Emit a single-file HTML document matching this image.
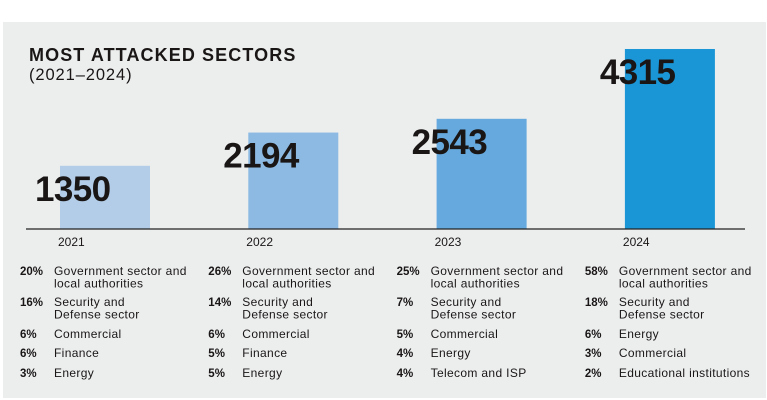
<!DOCTYPE html>
<html><head><meta charset="utf-8"><style>
body{margin:0;width:767px;height:400px;background:#fff;overflow:hidden;font-family:"Liberation Sans",sans-serif}
svg{position:absolute;left:0;top:0}
</style></head><body>
<svg id="c" width="767" height="400">
<rect x="3" y="22" width="763" height="376" fill="#eceeee"/>
<text x="29" y="61" font-size="18" font-weight="bold" fill="#1a1616" letter-spacing="1.1">MOST ATTACKED SECTORS</text>
<text x="29" y="80" font-size="16.5" fill="#1a1616" letter-spacing="0.9">(2021–2024)</text>
<g id="bars"></g>
<line x1="26" x2="745" y1="229" y2="229" stroke="#222" stroke-width="1.2"/>
<g id="tbl"></g>
</svg>
<script>
const years = ["2021","2022","2023","2024"];
const totals = [1350, 2194, 2543, 4315];
const colors = ["#b3cde8","#8dbae3","#65a9de","#1a96d6"];
const pcts = [["20%","16%","6%","6%","3%"],["26%","14%","6%","5%","5%"],["25%","7%","5%","4%","4%"],["58%","18%","6%","3%","2%"]];
const sectors = [
 [["Government sector and","local authorities"],["Security and","Defense sector"],["Commercial"],["Finance"],["Energy"]],
 [["Government sector and","local authorities"],["Security and","Defense sector"],["Commercial"],["Finance"],["Energy"]],
 [["Government sector and","local authorities"],["Security and","Defense sector"],["Commercial"],["Energy"],["Telecom and ISP"]],
 [["Government sector and","local authorities"],["Security and","Defense sector"],["Energy"],["Commercial"],["Educational institutions"]]
];
const NS="http://www.w3.org/2000/svg";
const base=229, colX=i=>60+i*188.3, barW=90;
const yH=v=>10+v*0.0394;
function mk(t,a,p){const e=document.createElementNS(NS,t);for(const k in a)e.setAttribute(k,a[k]);p.appendChild(e);return e;}
const bars=document.getElementById('bars');
totals.forEach((v,i)=>{
 const h=yH(v),x=colX(i);
 const r=mk('rect',{x:x,y:base-h,width:barW,height:h,fill:colors[i]},bars);
 
 
 const t=mk('text',{x:x-25,y:base-h+35,'font-size':35,'font-weight':'bold',fill:'#1a1616','letter-spacing':-0.6},bars);
 t.textContent=v;
 
 
 const y=mk('text',{x:x-2,y:246,'font-size':12,fill:'#1a1616'},bars);
 y.textContent=years[i];
 
 
});
const tbl=document.getElementById('tbl');
const rowY=[275,306,338,357,377];
years.forEach((yr,i)=>{
 const x=20+i*188.3;
 pcts[i].forEach((p,j)=>{
  const pt=mk('text',{x:x,y:rowY[j],'font-size':11.5,'font-weight':'bold',fill:'#1a1616'},tbl);
  pt.textContent=p;
  
  
  sectors[i][j].forEach((ln,k)=>{
   const st=mk('text',{x:x+34,y:rowY[j]+k*12.5,'font-size':12,fill:'#1a1616','letter-spacing':0.35},tbl);
   st.textContent=ln;
   
   
  });
 });
});
</script>
</body></html>
